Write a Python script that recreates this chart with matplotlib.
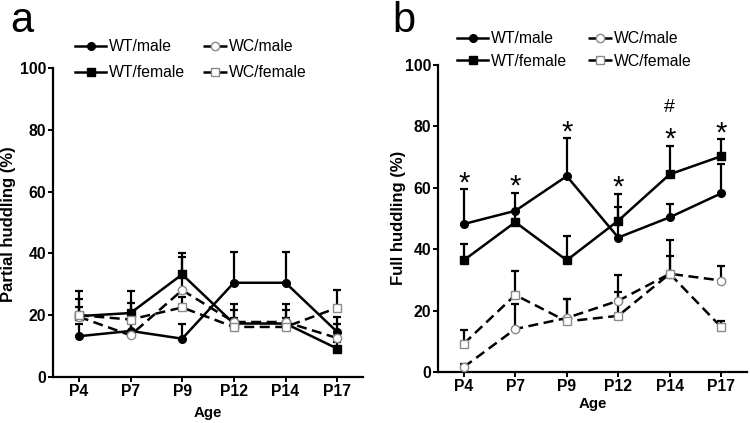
import numpy as np
import matplotlib
matplotlib.use("Agg")
import matplotlib.pyplot as plt
from matplotlib.lines import Line2D

plt.rcParams['font.family'] = ['Liberation Sans', 'DejaVu Sans']

ages = ["P4", "P7", "P9", "P12", "P14", "P17"]
series_names = ["WT/male", "WT/female", "WC/male", "WC/female"]

# Panel a: partial huddling (%) mean and upper SEM
a_wt_male = [13.2, 14.9, 12.4, 30.5, 30.5, 14.6]
a_wt_male_err = [3.8, 3.0, 4.9, 9.8, 9.8, 4.7]
a_wt_female = [19.7, 20.7, 33.2, 17.3, 17.3, 9.2]
a_wt_female_err = [8.1, 7.1, 7.0, 4.3, 4.3, 2.1]
a_wc_male = [19.5, 13.5, 28.1, 17.8, 17.8, 12.6]
a_wc_male_err = [5.6, 4.0, 10.8, 5.8, 5.8, 4.7]
a_wc_female = [20.0, 18.6, 22.5, 16.2, 16.2, 22.4]
a_wc_female_err = [2.5, 5.2, 3.5, 3.0, 3.0, 5.9]

# Panel b: full huddling (%) mean and upper SEM
b_wt_male = [48.2, 52.5, 63.8, 43.8, 50.4, 58.2]
b_wt_male_err = [11.3, 5.9, 12.3, 10.1, 4.3, 9.4]
b_wt_female = [36.4, 48.8, 36.4, 49.3, 64.4, 70.3]
b_wt_female_err = [5.2, 3.5, 8.0, 8.7, 9.2, 5.5]
b_wc_male = [1.6, 14.0, 17.6, 23.2, 32.0, 29.8]
b_wc_male_err = [1.1, 8.1, 6.1, 8.3, 5.8, 4.8]
b_wc_female = [9.2, 25.1, 16.5, 18.3, 32.0, 14.6]
b_wc_female_err = [4.6, 7.9, 7.2, 7.7, 11.0, 1.9]

# significance marks in panel b
b_marks = ["*", "*", "*", "*", "*", "*"]
b_marks2 = ["", "", "", "", "#", ""]

styles = [
    dict(ls='-', marker='o', mfc='black', mec='black', ms=5.5),
    dict(ls='-', marker='s', mfc='black', mec='black', ms=5.5),
    dict(ls=(0, (4, 2.2)), marker='o', mfc='white', mec='#8a8a8a', ms=6),
    dict(ls=(0, (4, 2.2)), marker='s', mfc='white', mec='#8a8a8a', ms=6),
]

fig = plt.figure(figsize=(7.5, 4.23), dpi=100)
axa = fig.add_axes([53/750, 1-377/423, 310/750, 309/423])
axb = fig.add_axes([438/750, 1-372/423, 309/750, 307/423])

x = np.arange(len(ages))

def draw(ax, means, errs):
    for m, e, st in zip(means, errs, styles):
        m = np.asarray(m); e = np.asarray(e)
        ax.errorbar(x, m, yerr=[np.zeros_like(e), e], fmt='none', ecolor='black',
                    elinewidth=1.6, capsize=3.2, capthick=1.6, zorder=2)
    for m, e, st in zip(means, errs, styles):
        ax.plot(x, m, color='black', lw=1.8, linestyle=st['ls'], marker=st['marker'],
                mfc=st['mfc'], mec=st['mec'], ms=st['ms'], mew=1.0, zorder=3)
    ax.set_xlim(-0.5, 5.5)
    ax.set_ylim(0, 100)
    ax.set_yticks([0, 20, 40, 60, 80, 100])
    ax.set_xticks(x)
    ax.set_xticklabels(ages)
    for s in ['top', 'right']:
        ax.spines[s].set_visible(False)
    for s in ['left', 'bottom']:
        ax.spines[s].set_linewidth(1.6)
    ax.tick_params(width=1.4, length=3.5, pad=1.5, labelsize=11.3)
    for lab in ax.get_xticklabels() + ax.get_yticklabels():
        lab.set_fontweight('bold')

def handle(st):
    return Line2D([], [], color='black', lw=1.8, linestyle=st['ls'],
                  marker=st['marker'], mfc=st['mfc'], mec=st['mec'],
                  ms=st['ms'], mew=1.0)

def legend(ax, x1, x2, ytop, spacing):
    l1 = ax.legend([handle(styles[0]), handle(styles[1])], series_names[:2],
                   frameon=False, loc='upper left',
                   bbox_to_anchor=(x1/750, 1-ytop/423), bbox_transform=fig.transFigure,
                   borderpad=0, borderaxespad=0, handlelength=2.0, handletextpad=0.15,
                   labelspacing=spacing, fontsize=11.3)
    ax.add_artist(l1)
    ax.legend([handle(styles[2]), handle(styles[3])], series_names[2:],
              frameon=False, loc='upper left',
              bbox_to_anchor=(x2/750, 1-ytop/423), bbox_transform=fig.transFigure,
              borderpad=0, borderaxespad=0, handlelength=1.5, handletextpad=0.15,
              labelspacing=spacing, fontsize=11.3)

draw(axa, [a_wt_male, a_wt_female, a_wc_male, a_wc_female],
     [a_wt_male_err, a_wt_female_err, a_wc_male_err, a_wc_female_err])
draw(axb, [b_wt_male, b_wt_female, b_wc_male, b_wc_female],
     [b_wt_male_err, b_wt_female_err, b_wc_male_err, b_wc_female_err])

legend(axa, 75, 203, 39, 0.72)
legend(axb, 457, 588, 31, 0.5)

axa.set_xlabel("Age", fontsize=10.8, fontweight='bold')
axa.set_ylabel("Partial huddling (%)", fontsize=12, fontweight='bold')
axb.set_xlabel("Age", fontsize=10.8, fontweight='bold')
axb.set_ylabel("Full huddling (%)", fontsize=12, fontweight='bold')
axa.xaxis.set_label_coords(0.5, (377-406)/309)
axa.yaxis.set_label_coords((9-53)/310, 0.5 + (222.5-224)/309)
axb.xaxis.set_label_coords(0.5, (372-397)/307)
axb.yaxis.set_label_coords((398-438)/309, 0.5 + (218.5-217.5)/307)
axa.xaxis.label.set_va('top')
axb.xaxis.label.set_va('top')
axa.yaxis.label.set_va('center')
axb.yaxis.label.set_va('center')

# significance marks above the highest error bar
b_all = np.array([b_wt_male, b_wt_female, b_wc_male, b_wc_female]) + \
        np.array([b_wt_male_err, b_wt_female_err, b_wc_male_err, b_wc_female_err])
tops = b_all.max(axis=0)
for i, (m1, m2) in enumerate(zip(b_marks, b_marks2)):
    axb.text(i, tops[i] + 2.0, m1, ha='center', va='center', fontsize=21)
    if m2:
        axb.text(i, tops[i] + 12.5, m2, ha='center', va='center', fontsize=14)

fig.text(10/750, 1-32/423, "a", fontsize=30, va='baseline', ha='left')
fig.text(392/750, 1-32/423, "b", fontsize=30, va='baseline', ha='left')

fig.savefig("out.png", dpi=100)
